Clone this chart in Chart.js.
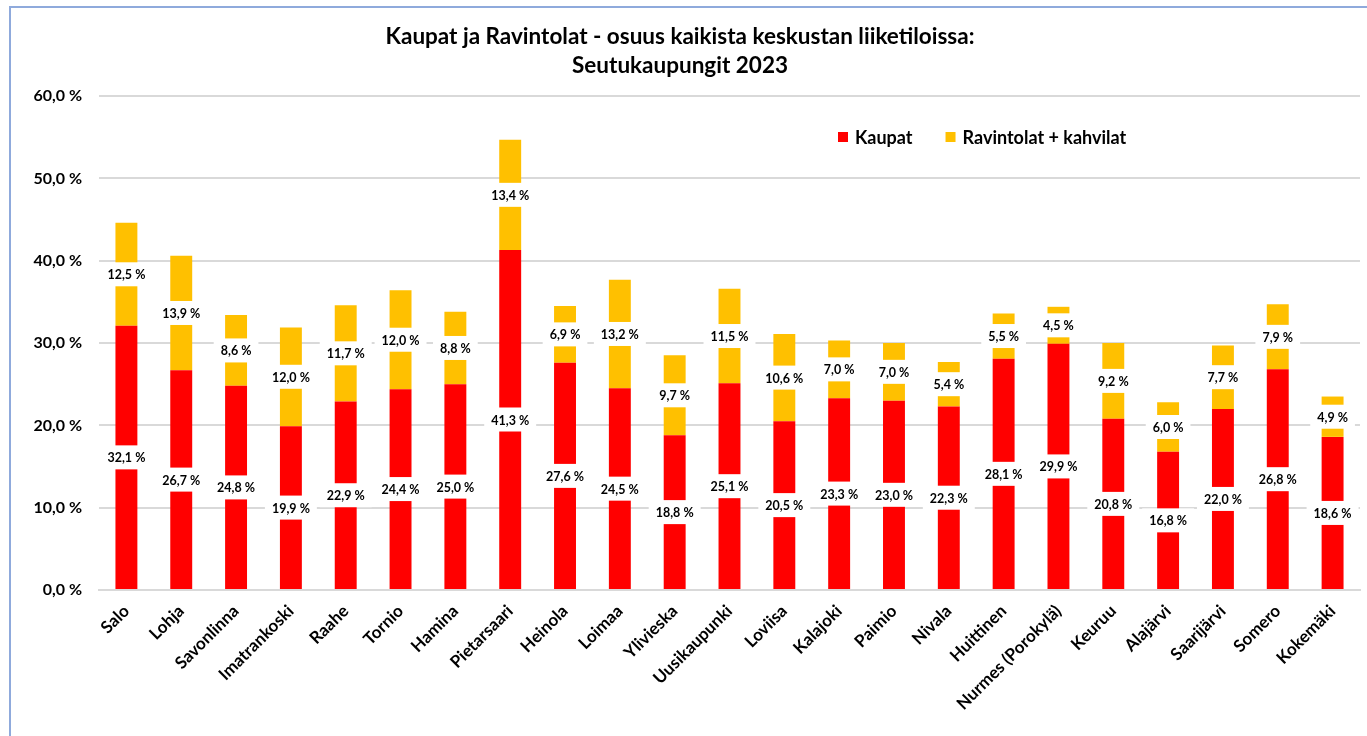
<!doctype html>
<html>
<head>
<meta charset="utf-8" />
<title>Kaupat ja Ravintolat - Seutukaupungit 2023</title>
<style>
  html, body { margin: 0; padding: 0; background: #fff; overflow: hidden; }
  #wrap { position: relative; width: 1367px; height: 736px; }
  #frame { position: absolute; left: 9px; top: 6px; width: 1400px; height: 800px; border: 2px solid #8faadc; box-sizing: border-box; pointer-events: none; }
  canvas { position: absolute; left: 0; top: 0; }
</style>
<script src="https://cdn.jsdelivr.net/npm/chart.js"></script>
</head>
<body>
<div id="wrap">
  <canvas id="chart" width="1367" height="736"></canvas>
  <div id="frame"></div>
</div>
<script>
const categories = ['Salo', 'Lohja', 'Savonlinna', 'Imatrankoski', 'Raahe', 'Tornio', 'Hamina', 'Pietarsaari',
  'Heinola', 'Loimaa', 'Ylivieska', 'Uusikaupunki', 'Loviisa', 'Kalajoki', 'Paimio', 'Nivala', 'Huittinen',
  'Nurmes (Porokylä)', 'Keuruu', 'Alajärvi', 'Saarijärvi', 'Somero', 'Kokemäki'];
const kaupat = [32.1, 26.7, 24.8, 19.9, 22.9, 24.4, 25.0, 41.3, 27.6, 24.5, 18.8, 25.1, 20.5, 23.3, 23.0, 22.3,
  28.1, 29.9, 20.8, 16.8, 22.0, 26.8, 18.6];
const ravintolat = [12.5, 13.9, 8.6, 12.0, 11.7, 12.0, 8.8, 13.4, 6.9, 13.2, 9.7, 11.5, 10.6, 7.0, 7.0, 5.4,
  5.5, 4.5, 9.2, 6.0, 7.7, 7.9, 4.9];
const yTickLabels = ['0,0 %', '10,0 %', '20,0 %', '30,0 %', '40,0 %', '50,0 %', '60,0 %'];
const titleLines = ['Kaupat ja Ravintolat - osuus kaikista keskustan liiketiloissa:', 'Seutukaupungit 2023'];

const FONT = 'Lato, "Open Sans", sans-serif';
const fmt = v => v.toFixed(1).replace('.', ',') + ' %';

// white boxed value labels in the middle of every segment
const segmentLabels = {
  id: 'segmentLabels',
  afterDatasetsDraw(chart) {
    const ctx = chart.ctx;
    ctx.save();
    ctx.font = 'bold 12.5px ' + FONT;
    ctx.textAlign = 'center';
    ctx.textBaseline = 'middle';
    chart.data.datasets.forEach((ds, di) => {
      const meta = chart.getDatasetMeta(di);
      meta.data.forEach((bar, i) => {
        const txt = fmt(ds.data[i]);
        const y = (bar.y + bar.base) / 2;
        const w = ctx.measureText(txt).width + 14;
        ctx.fillStyle = '#ffffff';
        ctx.fillRect(bar.x - w / 2, y - 12, w, 24);
        ctx.fillStyle = '#000000';
        ctx.fillText(txt, bar.x, y + 1);
      });
    });
    ctx.restore();
  }
};

// legend drawn inside the plot, upper right
const insideLegend = {
  id: 'insideLegend',
  afterDraw(chart) {
    const ctx = chart.ctx;
    ctx.save();
    ctx.font = 'bold 18px ' + FONT;
    ctx.textBaseline = 'middle';
    let x = 838;
    const y = 137;
    chart.data.datasets.forEach(ds => {
      ctx.fillStyle = ds.backgroundColor;
      ctx.fillRect(x, y - 5, 10, 10);
      x += 17;
      ctx.fillStyle = '#000000';
      ctx.fillText(ds.label, x, y + 1);
      x += ctx.measureText(ds.label).width + 33;
    });
    ctx.restore();
  }
};

new Chart(document.getElementById('chart'), {
  type: 'bar',
  data: {
    labels: categories,
    datasets: [
      { label: 'Kaupat', data: kaupat, backgroundColor: '#ff0000' },
      { label: 'Ravintolat + kahvilat', data: ravintolat, backgroundColor: '#ffc000' }
    ]
  },
  options: {
    responsive: false,
    animation: false,
    devicePixelRatio: 1,
    layout: { padding: { left: 0, right: 7, top: 0, bottom: 0 } },
    datasets: { bar: { barPercentage: 0.4, categoryPercentage: 1.0 } },
    plugins: {
      legend: { display: false },
      tooltip: { enabled: false },
      title: {
        display: true,
        text: titleLines,
        color: '#000000',
        font: { family: FONT, size: 22.5, weight: 'bold', lineHeight: 1.29 },
        padding: { top: 22, bottom: 16 }
      }
    },
    scales: {
      x: {
        stacked: true,
        grid: { display: false, drawTicks: false },
        border: { display: true, color: '#d9d9d9', width: 2 },
        ticks: {
          color: '#000000',
          font: { family: FONT, size: 17, weight: 'bold' },
          minRotation: 45,
          maxRotation: 45,
          autoSkip: false,
          padding: 11
        },
        afterFit(scale) { scale.height = 146; }
      },
      y: {
        stacked: true,
        min: 0,
        max: 60,
        grid: { color: '#d9d9d9', lineWidth: 2, drawTicks: false },
        border: { display: false },
        ticks: {
          stepSize: 10,
          color: '#000000',
          font: { family: FONT, size: 16, weight: 'bold' },
          padding: 17,
          callback: (value, index) => yTickLabels[index]
        },
        afterFit(scale) { scale.width = 99; }
      }
    }
  },
  plugins: [segmentLabels, insideLegend]
});
</script>
</body>
</html>
